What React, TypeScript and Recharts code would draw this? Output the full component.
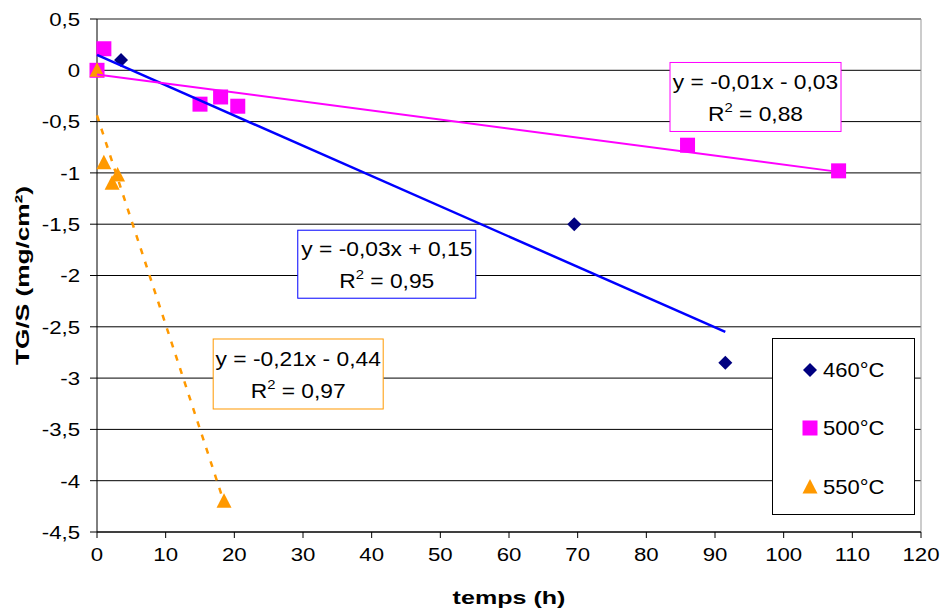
import React from "react";
import {
  CartesianGrid,
  Legend,
  ReferenceDot,
  ReferenceLine,
  Scatter,
  ScatterChart,
  XAxis,
  YAxis
} from "recharts";

const FONT = '"Liberation Sans", Arial, sans-serif';

const seriesNames = ["460°C", "500°C", "550°C"];
const seriesColors = ["#000080", "#FF00FF", "#FF9900"];
const trendColors = ["#0000FF", "#FF00FF", "#FF9900"];

// measured points, temps (h) / TG/S (mg/cm²)
const hours460 = [3.5, 69.5, 91.5];
const tg460 = [0.1, -1.5, -2.85];
const hours500 = [0, 1, 15, 18, 20.5, 86, 108];
const tg500 = [0, 0.21, -0.33, -0.26, -0.35, -0.73, -0.98];
const hours550 = [0, 1, 2.2, 3, 18.5];
const tg550 = [0, -0.9, -1.1, -1.02, -4.2];

// trendline end points as drawn
const trendHours460 = [0, 91.5];
const trendTg460 = [0.15, -2.55];
const trendHours500 = [0, 108];
const trendTg500 = [-0.04, -0.99];
const trendHours550 = [0, 18.2];
const trendTg550 = [-0.44, -4.15];

const equations = ["y = -0,03x + 0,15", "y = -0,01x - 0,03", "y = -0,21x - 0,44"];
const r2Values = ["0,95", "0,88", "0,97"];

const xTicks = [0, 10, 20, 30, 40, 50, 60, 70, 80, 90, 100, 110, 120];
const yTicks = [0.5, 0, -0.5, -1, -1.5, -2, -2.5, -3, -3.5, -4, -4.5];

const toPoints = (xs: number[], ys: number[]) => xs.map((x, i) => ({ x, y: ys[i] }));

const fmt = (v: number) => String(v).replace(".", ",");

function marker(kind: number, cx: number, cy: number, color: string) {
  if (kind === 0) {
    return (
      <polygon
        points={`${cx},${cy - 7} ${cx + 7},${cy} ${cx},${cy + 7} ${cx - 7},${cy}`}
        fill={color}
      />
    );
  }
  if (kind === 1) {
    return <rect x={cx - 7.5} y={cy - 7.5} width={15} height={15} fill={color} />;
  }
  return (
    <polygon
      points={`${cx},${cy - 8} ${cx + 7.5},${cy + 6.5} ${cx - 7.5},${cy + 6.5}`}
      fill={color}
    />
  );
}

const shapeFor = (kind: number) => (p: any) => marker(kind, p.cx, p.cy, seriesColors[kind]);
const noShape = () => <g />;

const XTick = (p: any) => (
  <text
    transform={`translate(${p.x},${p.y}) scale(1.17,1)`}
    textAnchor="middle"
    dy="0.71em"
    fontFamily={FONT}
    fontSize={19}
    fill="#000"
  >
    {fmt(p.payload.value)}
  </text>
);

const YTick = (p: any) => (
  <text
    transform={`translate(${p.x},${p.y}) scale(1.17,1)`}
    textAnchor="end"
    dy="0.36em"
    fontFamily={FONT}
    fontSize={19}
    fill="#000"
  >
    {fmt(p.payload.value)}
  </text>
);

const eqBox = (i: number, w: number, h: number) => (p: any) => (
  <g>
    <rect
      x={p.cx - w / 2}
      y={p.cy - h / 2}
      width={w}
      height={h}
      fill="#fff"
      stroke={trendColors[i]}
      strokeWidth={1}
    />
    <text
      transform={`translate(${p.cx},${p.cy - 8}) scale(1.14,1)`}
      textAnchor="middle"
      fontFamily={FONT}
      fontSize={20}
      fill="#000"
    >
      {equations[i]}
    </text>
    <text
      transform={`translate(${p.cx},${p.cy + 24}) scale(1.14,1)`}
      textAnchor="middle"
      fontFamily={FONT}
      fontSize={20}
      fill="#000"
    >
      R<tspan fontSize={13} dy={-9}>2</tspan>
      <tspan dy={9}>{" = " + r2Values[i]}</tspan>
    </text>
  </g>
);

const LegendBox = () => (
  <svg width={143} height={177} style={{ display: "block" }}>
    <rect x={0.5} y={0.5} width={142} height={176} fill="#fff" stroke="#000" />
    {seriesNames.map((name, i) => {
      const cy = [32, 90, 149][i];
      return (
        <g key={name}>
          {marker(i, 38, cy, seriesColors[i])}
          <text
            transform={`translate(51,${cy}) scale(1.1,1)`}
            dy="0.36em"
            fontFamily={FONT}
            fontSize={20}
            fill="#000"
          >
            {name}
          </text>
        </g>
      );
    })}
  </svg>
);

export default function App() {
  return (
    <div style={{ position: "absolute", left: 0, top: 0, background: "#fff" }}>
      <ScatterChart
        width={943}
        height={612}
        margin={{ top: 19, right: 22, bottom: 0, left: 0 }}
      >
        <CartesianGrid stroke="#000" vertical={false} />
        <ReferenceLine y={0.5} stroke="#999" />
        <ReferenceLine x={120} stroke="#999" />
        <XAxis
          type="number"
          dataKey="x"
          domain={[0, 120]}
          ticks={xTicks}
          interval={0}
          height={80}
          stroke="#000"
          tickSize={6}
          tickMargin={10}
          tick={<XTick />}
          label={{
            content: (lp: any) => {
              const vb = lp.viewBox || { x: 97, width: 824 };
              return (
                <text
                  transform={`translate(${vb.x + vb.width / 2},604) scale(1.32,1)`}
                  textAnchor="middle"
                  fontFamily={FONT}
                  fontSize={19}
                  fontWeight="bold"
                  fill="#000"
                >
                  temps (h)
                </text>
              );
            }
          }}
        />
        <YAxis
          type="number"
          dataKey="y"
          domain={[-4.5, 0.5]}
          ticks={yTicks}
          interval={0}
          width={97}
          stroke="#000"
          tickSize={7}
          tickMargin={10}
          tick={<YTick />}
          label={{
            content: (lp: any) => {
              const vb = lp.viewBox || { y: 19, height: 513 };
              return (
                <text
                  transform={`translate(29,${vb.y + vb.height / 2}) rotate(-90) scale(1.38,1)`}
                  textAnchor="middle"
                  fontFamily={FONT}
                  fontSize={19}
                  fontWeight="bold"
                  fill="#000"
                >
                  TG/S (mg/cm²)
                </text>
              );
            }
          }}
        />
        <Scatter
          name={seriesNames[0]}
          data={toPoints(hours460, tg460)}
          fill={seriesColors[0]}
          shape={shapeFor(0)}
          isAnimationActive={false}
        />
        <Scatter
          name={seriesNames[1]}
          data={toPoints(hours500, tg500)}
          fill={seriesColors[1]}
          shape={shapeFor(1)}
          isAnimationActive={false}
        />
        <Scatter
          name={seriesNames[2]}
          data={toPoints(hours550, tg550)}
          fill={seriesColors[2]}
          shape={shapeFor(2)}
          isAnimationActive={false}
        />
        <Scatter
          data={toPoints(trendHours460, trendTg460)}
          fill={trendColors[0]}
          line={{ stroke: trendColors[0], strokeWidth: 2.5 }}
          shape={noShape}
          legendType="none"
          isAnimationActive={false}
        />
        <Scatter
          data={toPoints(trendHours500, trendTg500)}
          fill={trendColors[1]}
          line={{ stroke: trendColors[1], strokeWidth: 2 }}
          shape={noShape}
          legendType="none"
          isAnimationActive={false}
        />
        <Scatter
          data={toPoints(trendHours550, trendTg550)}
          fill={trendColors[2]}
          line={{ stroke: trendColors[2], strokeWidth: 2.5, strokeDasharray: "6 8" }}
          shape={noShape}
          legendType="none"
          isAnimationActive={false}
        />
        <ReferenceDot x={42.2} y={-1.89} r={0} ifOverflow="visible" shape={eqBox(0, 178, 68)} />
        <ReferenceDot x={95.9} y={-0.26} r={0} ifOverflow="visible" shape={eqBox(1, 171, 69)} />
        <ReferenceDot x={29.3} y={-2.96} r={0} ifOverflow="visible" shape={eqBox(2, 170, 70)} />
        <Legend
          layout="horizontal"
          verticalAlign="middle"
          align="center"
          wrapperStyle={{ position: "absolute", left: 772, top: 338, width: 143, height: 177 }}
          content={() => <LegendBox />}
        />
      </ScatterChart>
    </div>
  );
}
